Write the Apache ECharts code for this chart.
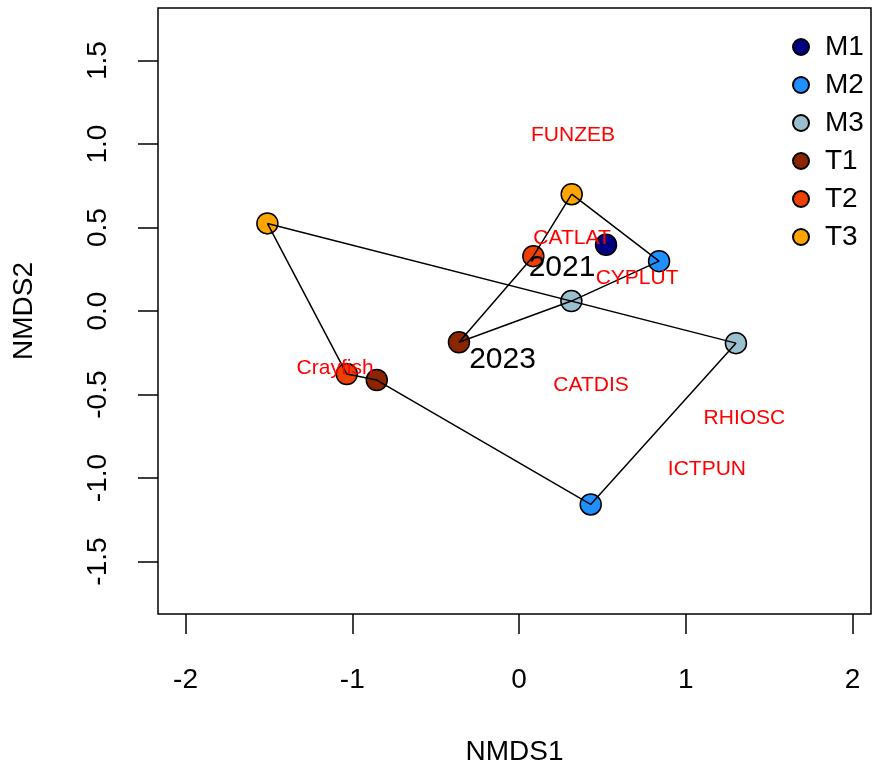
<!DOCTYPE html>
<html><head><meta charset="utf-8">
<script src="https://cdn.jsdelivr.net/npm/echarts@6/dist/echarts.min.js"></script>
<style>html,body{margin:0;padding:0;background:#fff}#c{width:873px;height:768px}</style>
</head><body><div id="c"></div>
<script>
const groups = ['M1','M2','M3','T1','T2','T3'];
const groupColors = ['#000080','#1E90FF','#9AC0CD','#8B2500','#EE4000','#FFA500'];
const siteGroup = ['M1','M2','M3','T1','T2','T3','M2','M3','T1','T2','T3'];
const siteYear = ['2021','2021','2021','2021','2021','2021','2023','2023','2023','2023','2023'];
const siteX = [0.522, 0.840, 0.314, -0.360, 0.086, 0.316, 0.430, 1.301, -0.853, -1.033, -1.509];
const siteY = [0.397, 0.299, 0.060, -0.187, 0.329, 0.700, -1.158, -0.192, -0.413, -0.377, 0.525];
const hullOrder2021 = ['T3','M2','M3','T1','T2','T3'];
const hullOrder2023 = ['T3','M3','M2','T1','T2','T3'];
const years = ['2021','2023'];
const yearLabelX = [0.258, -0.099];
const yearLabelY = [0.257, -0.290];
const species = ['FUNZEB','CATLAT','CYPLUT','Crayfish','CATDIS','RHIOSC','ICTPUN'];
const speciesX = [0.324, 0.318, 0.708, -1.103, 0.432, 1.352, 1.127];
const speciesY = [1.054, 0.437, 0.198, -0.341, -0.443, -0.641, -0.949];
const xTicks = [-2, -1, 0, 1, 2];
const yTicks = [-1.5, -1.0, -0.5, 0.0, 0.5, 1.0, 1.5];

const FONT = "'Liberation Sans', Arial, sans-serif";

function sitePoint(year, g) {
  for (let i = 0; i < siteX.length; i++) if (siteYear[i] === year && siteGroup[i] === g) return [siteX[i], siteY[i]];
  return null;
}

const series = [];
groups.forEach((g, gi) => {
  const data = [];
  for (let i = 0; i < siteX.length; i++) if (siteGroup[i] === g) data.push([siteX[i], siteY[i]]);
  series.push({
    name: g, type: 'scatter', symbol: 'circle', symbolSize: 21, z: 2,
    itemStyle: { color: groupColors[gi], borderColor: '#000', borderWidth: 1.5, opacity: 1 },
    data: data, silent: true
  });
});
[['2021', hullOrder2021], ['2023', hullOrder2023]].forEach(([yr, order]) => {
  series.push({
    name: 'hull' + yr, type: 'line', z: 3, symbol: 'none', showSymbol: false,
    lineStyle: { color: '#000', width: 1.5 }, animation: false,
    data: order.map(g => sitePoint(yr, g))
  });
});
series.push({
  name: 'species', type: 'scatter', symbolSize: 0, z: 4,
  itemStyle: { opacity: 1 },
  data: species.map((s, i) => ({ value: [speciesX[i], speciesY[i]], name: s })),
  label: { show: true, position: 'inside', formatter: p => p.name, color: '#FF0000', fontSize: 21, fontFamily: FONT }
});
series.push({
  name: 'years', type: 'scatter', symbolSize: 0, z: 4,
  itemStyle: { opacity: 1 },
  data: years.map((s, i) => ({ value: [yearLabelX[i], yearLabelY[i]], name: s })),
  label: { show: true, position: 'inside', formatter: p => p.name, color: '#000', fontSize: 30, fontFamily: FONT }
});

const chart = echarts.init(document.getElementById('c'), null, { renderer: 'canvas' });
chart.setOption({
  animation: false,
  backgroundColor: '#fff',
  grid: { left: 158, right: 2, top: 8, bottom: 154, show: true, borderColor: '#000', borderWidth: 1.5, backgroundColor: 'transparent', containLabel: false, outerBoundsMode: 'none' },
  xAxis: {
    type: 'value', min: -2.165, max: 2.111,
    name: 'NMDS1', nameLocation: 'middle', nameGap: 124,
    nameTextStyle: { fontSize: 28, color: '#000', fontFamily: FONT },
    axisLine: { show: false, onZero: false }, splitLine: { show: false },
    axisTick: { show: true, inside: false, length: 20, customValues: xTicks, lineStyle: { color: '#000', width: 1.5 } },
    axisLabel: { show: true, customValues: xTicks, margin: 52, fontSize: 28, color: '#000', fontFamily: FONT, formatter: v => String(v) }
  },
  yAxis: {
    type: 'value', min: -1.814, max: 1.815,
    name: 'NMDS2', nameLocation: 'middle', nameGap: 120,
    nameTextStyle: { fontSize: 28, color: '#000', fontFamily: FONT },
    axisLine: { show: false, onZero: false }, splitLine: { show: false },
    axisTick: { show: true, inside: false, length: 20, customValues: yTicks, lineStyle: { color: '#000', width: 1.5 } },
    axisLabel: { show: true, customValues: yTicks, margin: 46, rotate: 90, fontSize: 28, color: '#000', fontFamily: FONT, formatter: v => v.toFixed(1) }
  },
  legend: {
    data: groups, orient: 'vertical', left: 787, top: 28,
    itemWidth: 16, itemHeight: 16, itemGap: 10, icon: 'circle',
    textStyle: { fontSize: 28, color: '#000', fontFamily: FONT, padding: [0, 0, 0, 11] },
    selectedMode: false
  },
  series: series
});
</script></body></html>
